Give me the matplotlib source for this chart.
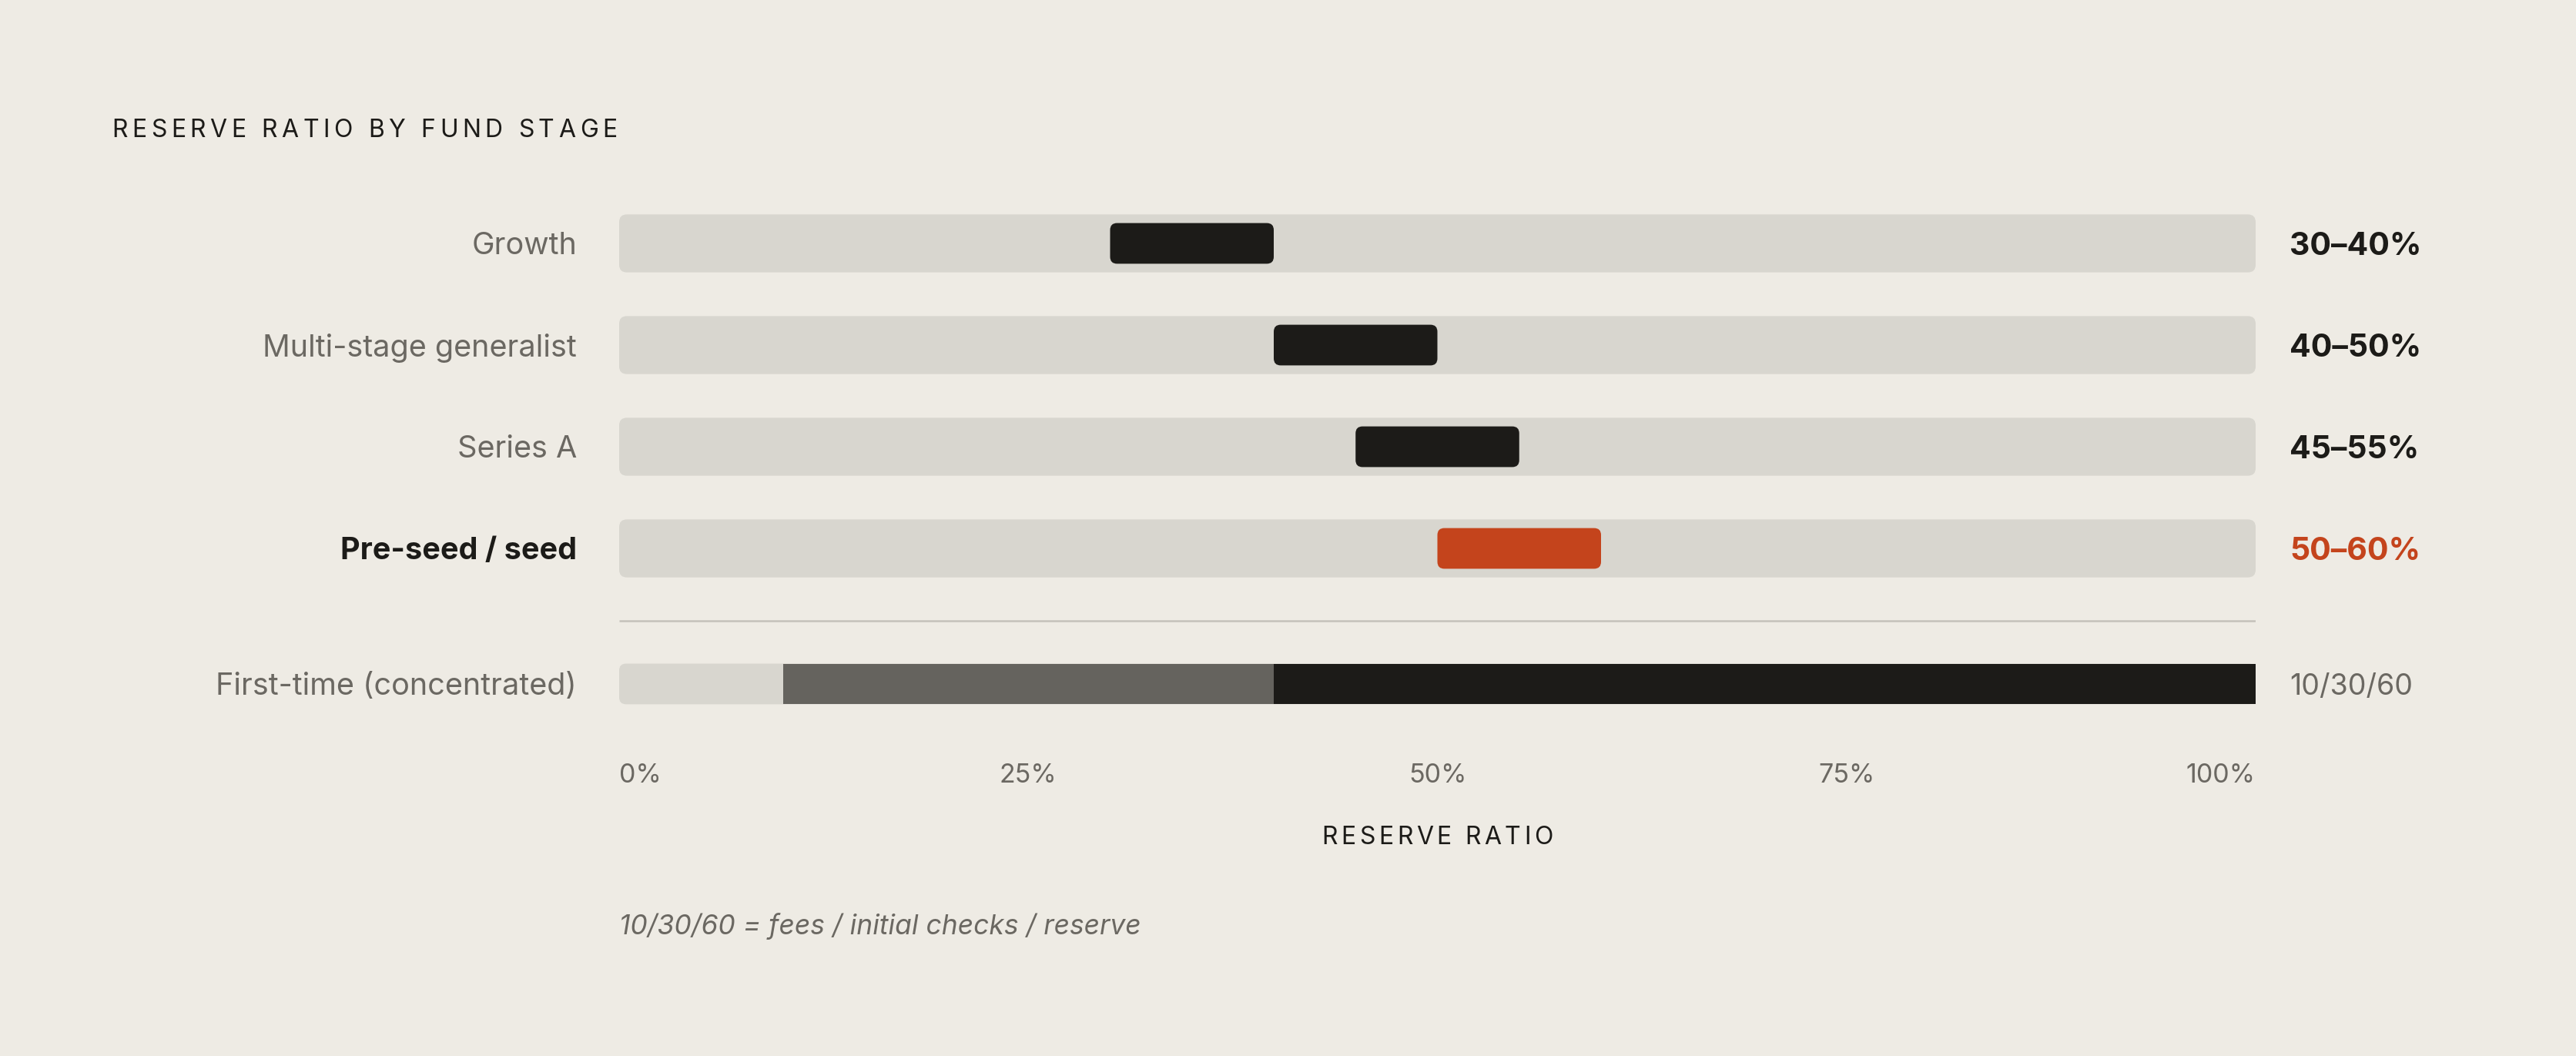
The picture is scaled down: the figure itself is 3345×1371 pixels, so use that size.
import matplotlib
matplotlib.use("Agg")
import matplotlib.pyplot as plt
from matplotlib.patches import FancyBboxPatch

# Data
stages = ["Growth", "Multi-stage generalist", "Series A", "Pre-seed / seed"]
low = [30, 40, 45, 50]
high = [40, 50, 55, 60]
range_labels = ["30–40%", "40–50%", "45–55%", "50–60%"]
highlight = "Pre-seed / seed"

split_stage = "First-time (concentrated)"
split_parts = ["fees", "initial checks", "reserve"]
split_values = [10, 30, 60]
split_label = "10/30/60"

tick_values = [0, 25, 50, 75, 100]
tick_labels = ["0%", "25%", "50%", "75%", "100%"]

# Style
BG = "#EEEBE4"
TRACK = "#D8D6CF"
DARK = "#1C1B18"
MID = "#65635E"
ORANGE = "#C4441C"
GREY_TXT = "#6B6862"
SEP = "#C4C1BA"
plt.rcParams["font.family"] = ["Inter", "DejaVu Sans"]

W, H = 3345, 1371
fig = plt.figure(figsize=(W / 100, H / 100), dpi=100, facecolor=BG)

# axes: x 0..100 across the track, y in row units (132 px per row)
x0_px, x1_px = 804, 2929
row_px = 132
row0_px = 316
ax = fig.add_axes([x0_px / W, 0, (x1_px - x0_px) / W, 1])
ax.set_xlim(0, 100)
ax.set_ylim(-row0_px / row_px + H / row_px, -row0_px / row_px)
ax.axis("off")

px_x = (x1_px - x0_px) / 100.0
asp = px_x / row_px


def rbox(x, y, w, h, color, r_px=10):
    p = FancyBboxPatch((x, y - h / 2), w, h,
                       boxstyle=f"round,pad=0,rounding_size={r_px / px_x}",
                       mutation_aspect=asp, facecolor=color, edgecolor="none")
    ax.add_patch(p)


track_h = 0.57
bar_h = 0.40
label_x = (749 - x0_px) / px_x
value_x = (2973 - x0_px) / px_x
dy = 0.03  # nudge text to optical centre

for i, (name, lo, hi, lab) in enumerate(zip(stages, low, high, range_labels)):
    rbox(0, i, 100, track_h, TRACK)
    col = ORANGE if name == highlight else DARK
    rbox(lo, i, hi - lo, bar_h, col, r_px=9)
    bold = name == highlight
    ax.text(label_x, i + dy, name, ha="right", va="center", fontsize=28.5,
            color=DARK if bold else GREY_TXT,
            fontweight="bold" if bold else "normal")
    ax.text(value_x, i + dy, lab, ha="left", va="center", fontsize=29.5,
            color=col, fontweight="bold")

# separator
sep_y = 3.712
ax.plot([0, 100], [sep_y, sep_y], color=SEP, lw=1.8, solid_capstyle="butt")

# first-time split bar
fy = 4.333
rbox(0, fy, 100, bar_h, TRACK, r_px=9)
left = split_values[0]
for v, c in zip(split_values[1:], [MID, DARK]):
    ax.barh(fy, v, left=left, height=bar_h, color=c, linewidth=0)
    left += v
ax.text(label_x, fy + dy, split_stage, ha="right", va="center", fontsize=28.5,
        color=GREY_TXT)
ax.text(value_x, fy + dy, split_label, ha="left", va="center", fontsize=27,
        color=GREY_TXT)

# tick labels
tick_y = 5.235
for v, t in zip(tick_values, tick_labels):
    ha = "left" if v == 0 else ("right" if v == 100 else "center")
    ax.text(v, tick_y, t, ha=ha, va="center", fontsize=24.5, color=GREY_TXT)

ax.text(0, 6.715, f"{split_label} = " + " / ".join(split_parts),
        ha="left", va="center", fontsize=25.5, color=GREY_TXT, style="italic")


# letter-spaced text
def spaced(x_px, y_px, s, track_px, ha="left", **kw):
    r = fig.canvas.get_renderer()

    def wid(txt):
        t = fig.text(0, 0, txt, **kw)
        w = t.get_window_extent(r).width
        t.remove()
        return w

    total = wid(s) + track_px * (len(s) - 1)
    start = x_px - total / 2 if ha == "center" else x_px
    for i, ch in enumerate(s):
        if ch == " ":
            continue
        off = wid(s[:i + 1]) - wid(ch) + i * track_px
        fig.text((start + off) / W, 1 - y_px / H, ch, ha="left",
                 va="center", **kw)


spaced(145, 170, "RESERVE RATIO BY FUND STAGE", 5.6, fontsize=23, color=DARK)
spaced(x0_px + 50 * px_x, 1088, "RESERVE RATIO", 4.5, ha="center",
       fontsize=23, color=DARK)

fig.savefig("out.png", dpi=100, facecolor=BG)
